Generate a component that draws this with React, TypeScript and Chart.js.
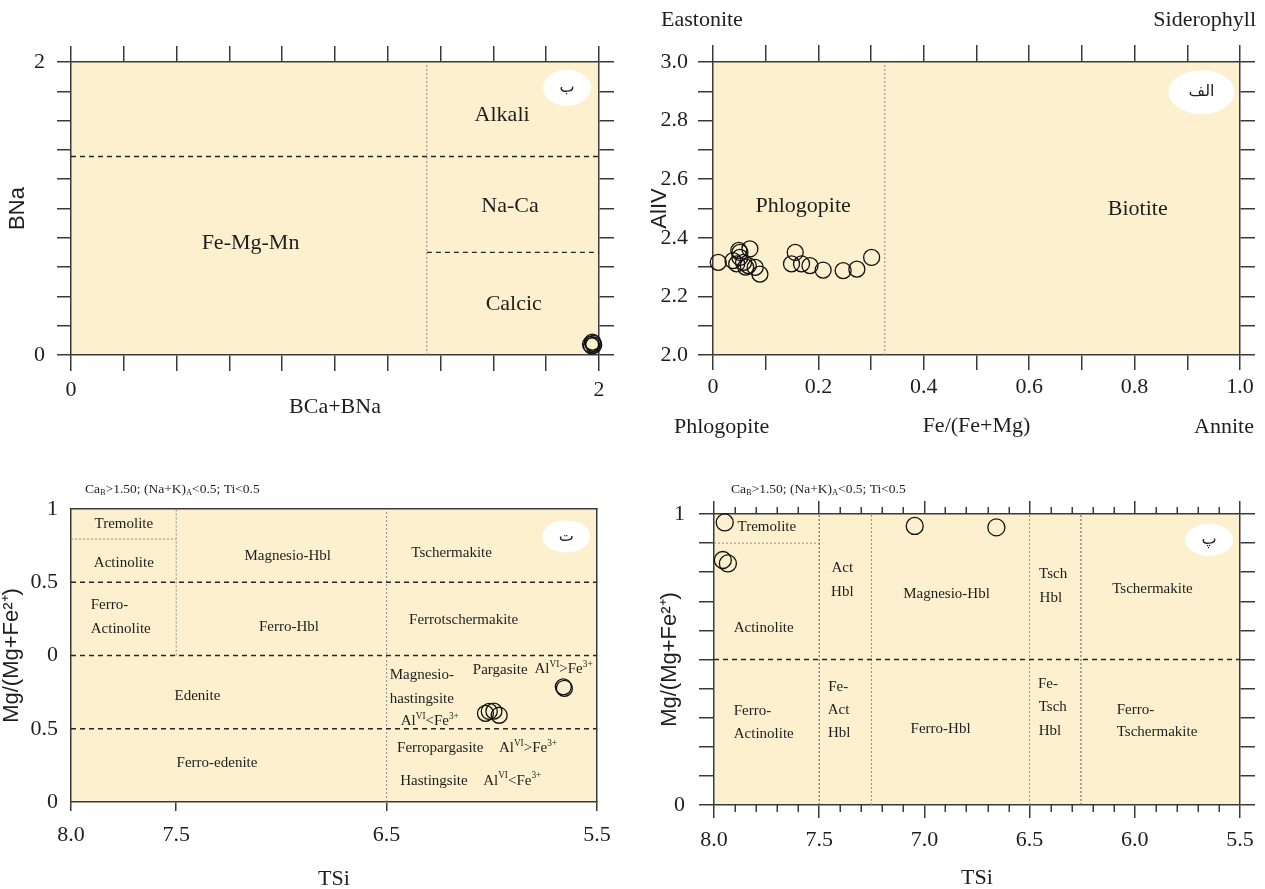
import React, { useEffect, useRef } from 'react';
import { Chart, registerables } from 'chart.js';

Chart.register(...registerables);

// ---------------- fonts & colours ----------------
const SERIF = '"Liberation Serif", "Times New Roman", Times, serif';
const SANS = '"Liberation Sans", Arial, Helvetica, sans-serif';
const ARABIC = '"DejaVu Sans", "Noto Sans", sans-serif';
const FIELD_BG = '#FDF0CE';
const INK = '#1e1e1e';
const FRAME = '#3a3a3a';

type P = { x: number; y: number };
const zip = (xs: number[], ys: number[]): P[] => xs.map((x, i) => ({ x, y: ys[i] }));

// ---------------- Panel ب : BCa+BNa vs BNa ----------------
const groupLabeledX = [0, 2];
const groupLabeledY = [0, 2];
const groupSumBCaBNa = [1.968, 1.975, 1.98, 1.972, 1.978];
const groupBNa = [0.072, 0.088, 0.068, 0.062, 0.08];
const groupLineV: P[] = [{ x: 1.348, y: 0 }, { x: 1.348, y: 2 }];
const groupLineSodic: P[] = [{ x: 0, y: 1.355 }, { x: 2, y: 1.355 }];
const groupLineCalcic: P[] = [{ x: 1.348, y: 0.7 }, { x: 2, y: 0.7 }];
const groupFields = [
  { text: 'Alkali', x: 1.633, y: 1.635 },
  { text: 'Na-Ca', x: 1.663, y: 1.016 },
  { text: 'Fe-Mg-Mn', x: 0.68, y: 0.76 },
  { text: 'Calcic', x: 1.677, y: 0.349 },
];

// ---------------- Panel الف : Fe/(Fe+Mg) vs AlIV ----------------
const bioLabeledX = [0, 0.2, 0.4, 0.6, 0.8, 1.0];
const bioLabeledY = [2.0, 2.2, 2.4, 2.6, 2.8, 3.0];
const bioFeRatio = [0.010, 0.038, 0.045, 0.051, 0.051, 0.049, 0.058, 0.067, 0.070, 0.080, 0.089, 0.062, 0.149, 0.156, 0.168, 0.184, 0.209, 0.247, 0.273, 0.301];
const bioAlIV = [2.316, 2.322, 2.311, 2.350, 2.333, 2.357, 2.316, 2.305, 2.362, 2.299, 2.276, 2.300, 2.311, 2.350, 2.311, 2.305, 2.290, 2.288, 2.293, 2.333];
const bioLineV: P[] = [{ x: 0.326, y: 2 }, { x: 0.326, y: 3 }];
const bioFields = [
  { text: 'Phlogopite', x: 0.171, y: 2.507 },
  { text: 'Biotite', x: 0.806, y: 2.497 },
];

// ---------------- Panel ت : TSi vs Mg/(Mg+Fe2+) (two stacked diagrams) ----------------
const leakeTickValuesX = [8.0, 7.5, 6.5, 5.5];
const leakeTickValuesY = [0, 0.5, 1, 1.5, 2];
const leakeTickLabelsY = ['0', '0.5', '0', '0.5', '1'];
const leakeTSi = [6.03, 6.012, 5.99, 5.965, 5.66, 5.655];
const leakeMg = [0.605, 0.618, 0.62, 0.592, 0.786, 0.776];
const leakeLineUpper: P[] = [{ x: 8, y: 1.5 }, { x: 5.5, y: 1.5 }];
const leakeLineMid: P[] = [{ x: 8, y: 1.0 }, { x: 5.5, y: 1.0 }];
const leakeLineLower: P[] = [{ x: 8, y: 0.5 }, { x: 5.5, y: 0.5 }];
const leakeLineAct: P[] = [{ x: 7.5, y: 1.0 }, { x: 7.5, y: 2.0 }];
const leakeLineTsch: P[] = [{ x: 6.5, y: 0 }, { x: 6.5, y: 2.0 }];
const leakeLineTrem: P[] = [{ x: 8, y: 1.795 }, { x: 7.5, y: 1.795 }];
const leakeFields = [
  { text: 'Tremolite', x: 7.749, y: 1.9 },
  { text: 'Actinolite', x: 7.749, y: 1.631 },
  { text: 'Magnesio-Hbl', x: 6.97, y: 1.681 },
  { text: 'Tschermakite', x: 6.191, y: 1.7 },
  { text: 'Ferro-', x: 7.906, y: 1.347, align: 'left' },
  { text: 'Actinolite', x: 7.906, y: 1.183, align: 'left' },
  { text: 'Ferro-Hbl', x: 6.964, y: 1.195 },
  { text: 'Ferrotschermakite', x: 6.134, y: 1.245 },
  { text: 'Magnesio-', x: 6.485, y: 0.865, align: 'left' },
  { text: 'hastingsite', x: 6.485, y: 0.706, align: 'left' },
  { text: 'Al^{VI}<Fe^{3+}', x: 6.433, y: 0.551, align: 'left' },
  { text: 'Pargasite', x: 5.96, y: 0.903 },
  { text: 'Al^{VI}>Fe^{3+}', x: 5.659, y: 0.908 },
  { text: 'Edenite', x: 7.399, y: 0.721 },
  { text: 'Ferropargasite', x: 6.245, y: 0.369 },
  { text: 'Al^{VI}>Fe^{3+}', x: 5.828, y: 0.369 },
  { text: 'Ferro-edenite', x: 7.306, y: 0.266 },
  { text: 'Hastingsite', x: 6.275, y: 0.145 },
  { text: 'Al^{VI}<Fe^{3+}', x: 5.903, y: 0.145 },
];

// ---------------- Panel پ : TSi vs Mg/(Mg+Fe2+) ----------------
const calcLabeledY = [0, 1];
const calcMinorX = [7.9, 7.8, 7.7, 7.6, 7.4, 7.3, 7.2, 7.1, 6.9, 6.8, 6.7, 6.6, 6.4, 6.3, 6.2, 6.1, 5.9, 5.8, 5.7, 5.6];
const calcTSi = [7.949, 7.958, 7.934, 7.046, 6.658];
const calcMg = [0.971, 0.842, 0.83, 0.959, 0.954];
const calcLineHalf: P[] = [{ x: 8, y: 0.5 }, { x: 5.5, y: 0.5 }];
const calcLineTrem: P[] = [{ x: 8, y: 0.9 }, { x: 7.485, y: 0.9 }];
const calcLine75: P[] = [{ x: 7.5, y: 0 }, { x: 7.5, y: 1 }];
const calcLine725: P[] = [{ x: 7.252, y: 0 }, { x: 7.252, y: 1 }];
const calcLine65: P[] = [{ x: 6.5, y: 0 }, { x: 6.5, y: 1 }];
const calcLine625: P[] = [{ x: 6.256, y: 0 }, { x: 6.256, y: 1 }];
const calcFields = [
  { text: 'Tremolite', x: 7.749, y: 0.956 },
  { text: 'Act', x: 7.39, y: 0.813 },
  { text: 'Hbl', x: 7.39, y: 0.733 },
  { text: 'Magnesio-Hbl', x: 6.895, y: 0.725 },
  { text: 'Tsch', x: 6.388, y: 0.793 },
  { text: 'Hbl', x: 6.399, y: 0.71 },
  { text: 'Tschermakite', x: 5.916, y: 0.742 },
  { text: 'Actinolite', x: 7.764, y: 0.607 },
  { text: 'Ferro-', x: 7.906, y: 0.323, align: 'left' },
  { text: 'Actinolite', x: 7.906, y: 0.243, align: 'left' },
  { text: 'Fe-', x: 7.41, y: 0.404 },
  { text: 'Act', x: 7.408, y: 0.325 },
  { text: 'Hbl', x: 7.405, y: 0.246 },
  { text: 'Ferro-Hbl', x: 6.923, y: 0.261 },
  { text: 'Fe-', x: 6.413, y: 0.415 },
  { text: 'Tsch', x: 6.39, y: 0.336 },
  { text: 'Hbl', x: 6.403, y: 0.254 },
  { text: 'Ferro-', x: 6.086, y: 0.325, align: 'left' },
  { text: 'Tschermakite', x: 6.086, y: 0.249, align: 'left' },
];

const HEADER = 'Ca_{B}>1.50; (Na+K)_{A}<0.5; Ti<0.5';

// ---------------- helpers ----------------
type Part = { t: string; k?: 'sup' | 'sub' };
function parseRich(s: string): Part[] {
  const parts: Part[] = [];
  const re = /([\^_])\{([^}]*)\}/g;
  let last = 0;
  let m: RegExpExecArray | null;
  while ((m = re.exec(s))) {
    if (m.index > last) parts.push({ t: s.slice(last, m.index) });
    parts.push({ t: m[2], k: m[1] === '^' ? 'sup' : 'sub' });
    last = re.lastIndex;
  }
  if (last < s.length) parts.push({ t: s.slice(last) });
  return parts;
}

function drawRich(ctx: CanvasRenderingContext2D, s: string, x: number, y: number, size: number, family: string, align: string, color: string) {
  const parts = parseRich(s);
  const small = size * 0.62;
  ctx.save();
  ctx.fillStyle = color;
  ctx.textBaseline = 'middle';
  ctx.textAlign = 'left';
  const widths = parts.map((p) => {
    ctx.font = `${p.k ? small : size}px ${family}`;
    return ctx.measureText(p.t).width;
  });
  const total = widths.reduce((a, b) => a + b, 0);
  let cx = align === 'center' ? x - total / 2 : align === 'right' ? x - total : x;
  parts.forEach((p, i) => {
    ctx.font = `${p.k ? small : size}px ${family}`;
    const dy = p.k === 'sup' ? -size * 0.32 : p.k === 'sub' ? size * 0.3 : 0;
    ctx.fillText(p.t, cx, y + dy);
    cx += widths[i];
  });
  ctx.restore();
}

type Field = { text: string; x: number; y: number; align?: string };
type Badge = { text: string; x: number; y: number; rx: number; ry: number; size: number };
type Free = { text: string; cx: number; cy: number; align: string; size: number; family: string };
type Minor = { values: number[]; len: number };

function decor(id: string, fields: Field[], size: number, badge: Badge, free: Free[], minor?: Minor) {
  return {
    id,
    beforeDraw(chart: any) {
      const { ctx, chartArea: a } = chart;
      ctx.save();
      ctx.fillStyle = FIELD_BG;
      ctx.fillRect(a.left, a.top, a.right - a.left, a.bottom - a.top);
      ctx.restore();
    },
    beforeDatasetsDraw(chart: any) {
      const { ctx } = chart;
      const xs = chart.scales.x;
      const ys = chart.scales.y;
      const bx = xs.getPixelForValue(badge.x);
      const by = ys.getPixelForValue(badge.y);
      ctx.save();
      ctx.fillStyle = '#ffffff';
      ctx.beginPath();
      ctx.ellipse(bx, by, badge.rx, badge.ry, 0, 0, Math.PI * 2);
      ctx.fill();
      ctx.fillStyle = INK;
      ctx.font = `${badge.size}px ${ARABIC}`;
      ctx.textAlign = 'center';
      ctx.textBaseline = 'middle';
      ctx.fillText(badge.text, bx, by);
      ctx.restore();
    },
    afterDatasetsDraw(chart: any) {
      const { ctx, chartArea: a } = chart;
      const xs = chart.scales.x;
      const ys = chart.scales.y;
      fields.forEach((f) => {
        drawRich(ctx, f.text, xs.getPixelForValue(f.x), ys.getPixelForValue(f.y), size, SERIF, f.align || 'center', INK);
      });
      free.forEach((f) => drawRich(ctx, f.text, f.cx, f.cy, f.size, f.family, f.align, INK));
      if (minor) {
        ctx.save();
        ctx.strokeStyle = FRAME;
        ctx.lineWidth = 1.5;
        minor.values.forEach((v) => {
          const px = Math.round(xs.getPixelForValue(v)) + 0.25;
          ctx.beginPath();
          ctx.moveTo(px, a.bottom);
          ctx.lineTo(px, a.bottom + minor.len);
          ctx.moveTo(px, a.top);
          ctx.lineTo(px, a.top - minor.len);
          ctx.stroke();
        });
        ctx.restore();
      }
    },
  };
}

const tickFont = { family: SERIF, size: 22 };
const border = { display: true, color: FRAME, width: 1.5 };
const grid = (len: number) => ({
  drawOnChartArea: false,
  drawTicks: len > 0,
  tickLength: len,
  tickColor: FRAME,
  tickWidth: 1.5,
  color: FRAME,
  lineWidth: 1.5,
});
const fixW = (w: number) => (s: any) => { s.width = w; };
const fixH = (h: number) => (s: any) => { s.height = h; };
const near = (v: number, list: number[]) => list.some((l) => Math.abs(l - v) < 1e-6);

const DASH = { borderColor: '#262626', borderWidth: 1.3, borderDash: [5, 4] };
const DOT_LIGHT = { borderColor: '#8c8c8c', borderWidth: 1, borderDash: [2, 2] };
const DOT_DARK = { borderColor: '#5a5a5a', borderWidth: 1, borderDash: [2, 2] };

const boundary = (data: P[], style: any) => ({ data, showLine: true, pointRadius: 0, fill: false, ...style });
const samples = (data: P[], r: number) => ({
  data,
  showLine: false,
  pointStyle: 'circle',
  pointRadius: r,
  pointBorderWidth: 1.3,
  pointBorderColor: '#111111',
  pointBackgroundColor: 'rgba(0,0,0,0)',
  clip: false,
});

const baseOptions = {
  animation: false,
  responsive: false,
  devicePixelRatio: 1,
  layout: { padding: 0 },
  events: [],
  plugins: { legend: { display: false }, tooltip: { enabled: false } },
};

const hiddenTicks = { display: false };

// ---------------- chart builders ----------------
function buildGroups(): any {
  return {
    type: 'scatter',
    data: {
      datasets: [
        samples(zip(groupSumBCaBNa, groupBNa), 8),
        boundary(groupLineV, DOT_LIGHT),
        boundary(groupLineSodic, DASH),
        boundary(groupLineCalcic, DASH),
      ],
    },
    options: {
      ...baseOptions,
      scales: {
        x: {
          type: 'linear', position: 'bottom', min: 0, max: 2,
          afterFit: fixH(89),
          ticks: { stepSize: 0.2, autoSkip: false, maxRotation: 0, padding: 6, font: tickFont, color: INK,
            callback: (v: number) => (near(v, groupLabeledX) ? String(Math.round(v)) : '') },
          grid: grid(16), border,
          title: { display: true, text: 'BCa+BNa', font: { family: SERIF, size: 22 }, color: INK, padding: { top: 0, bottom: 24 } },
        },
        x2: { type: 'linear', position: 'top', min: 0, max: 2, afterFit: fixH(62),
          ticks: { ...hiddenTicks, stepSize: 0.2 }, grid: grid(16), border },
        y: {
          type: 'linear', position: 'left', min: 0, max: 2,
          afterFit: fixW(71),
          ticks: { stepSize: 0.2, autoSkip: false, padding: 12, font: tickFont, color: INK,
            callback: (v: number) => (near(v, groupLabeledY) ? String(Math.round(v)) : '') },
          grid: grid(14), border,
          title: { display: true, text: 'BNa', font: { family: SANS, size: 22 }, color: INK, padding: { top: 5, bottom: 0 } },
        },
        y2: { type: 'linear', position: 'right', min: 0, max: 2, afterFit: fixW(33),
          ticks: { ...hiddenTicks, stepSize: 0.2 }, grid: grid(15), border },
      },
    },
    plugins: [decor('groupsDecor', groupFields, 22, { text: 'ب', x: 1.879, y: 1.824, rx: 24, ry: 18, size: 16 }, [])],
  };
}

function buildBiotite(): any {
  return {
    type: 'scatter',
    data: {
      datasets: [samples(zip(bioFeRatio, bioAlIV), 8), boundary(bioLineV, DOT_LIGHT)],
    },
    options: {
      ...baseOptions,
      scales: {
        x: {
          type: 'linear', position: 'bottom', min: 0, max: 1,
          afterFit: fixH(89),
          ticks: { stepSize: 0.1, autoSkip: false, maxRotation: 0, padding: 4, font: tickFont, color: INK,
            callback: (v: number) => (near(v, bioLabeledX) ? (Math.abs(v) < 1e-6 ? '0' : v.toFixed(1)) : '') },
          grid: grid(15), border,
          title: { display: true, text: 'Fe/(Fe+Mg)', font: { family: SERIF, size: 22 }, color: INK, padding: { top: 0, bottom: 5 } },
        },
        x2: { type: 'linear', position: 'top', min: 0, max: 1, afterFit: fixH(62),
          ticks: { ...hiddenTicks, stepSize: 0.1 }, grid: grid(17), border },
        y: {
          type: 'linear', position: 'left', min: 2, max: 3,
          afterFit: fixW(81),
          ticks: { stepSize: 0.1, autoSkip: false, padding: 10, font: tickFont, color: INK,
            callback: (v: number) => (near(v, bioLabeledY) ? v.toFixed(1) : '') },
          grid: grid(15), border,
          title: { display: true, text: 'AlIV', font: { family: SANS, size: 22 }, color: INK, padding: { top: 15, bottom: 0 } },
        },
        y2: { type: 'linear', position: 'right', min: 2, max: 3, afterFit: fixW(25),
          ticks: { ...hiddenTicks, stepSize: 0.1 }, grid: grid(15), border },
      },
    },
    plugins: [decor('bioDecor', bioFields, 22, { text: 'الف', x: 0.927, y: 2.897, rx: 33, ry: 22, size: 16 }, [
      { text: 'Eastonite', cx: 29, cy: 20, align: 'left', size: 22, family: SERIF },
      { text: 'Siderophyll', cx: 624, cy: 20, align: 'right', size: 22, family: SERIF },
      { text: 'Phlogopite', cx: 42, cy: 427, align: 'left', size: 22, family: SERIF },
      { text: 'Annite', cx: 622, cy: 427, align: 'right', size: 22, family: SERIF },
    ])],
  };
}

function buildLeake(): any {
  return {
    type: 'scatter',
    data: {
      datasets: [
        samples(zip(leakeTSi, leakeMg), 8),
        boundary(leakeLineUpper, DASH),
        boundary(leakeLineMid, DASH),
        boundary(leakeLineLower, DASH),
        boundary(leakeLineAct, DOT_LIGHT),
        boundary(leakeLineTsch, DOT_LIGHT),
        boundary(leakeLineTrem, DOT_LIGHT),
      ],
    },
    options: {
      ...baseOptions,
      scales: {
        x: {
          type: 'linear', position: 'bottom', min: 5.5, max: 8, reverse: true,
          afterFit: fixH(87),
          afterBuildTicks: (s: any) => { s.ticks = leakeTickValuesX.map((value) => ({ value })); },
          ticks: { autoSkip: false, maxRotation: 0, padding: 11, font: tickFont, color: INK,
            callback: (v: number) => v.toFixed(1) },
          grid: grid(9), border,
          title: { display: true, text: 'TSi', font: { family: SERIF, size: 22 }, color: INK, padding: { top: 0, bottom: -3 } },
        },
        x2: { type: 'linear', position: 'top', min: 5.5, max: 8, reverse: true, afterFit: fixH(65),
          ticks: hiddenTicks, grid: grid(0), border },
        y: {
          type: 'linear', position: 'left', min: 0, max: 2,
          afterFit: fixW(71),
          afterBuildTicks: (s: any) => { s.ticks = leakeTickValuesY.map((value) => ({ value })); },
          ticks: { autoSkip: false, padding: 13, font: tickFont, color: INK,
            callback: (v: number) => leakeTickLabelsY[leakeTickValuesY.findIndex((t) => Math.abs(t - v) < 1e-6)] },
          grid: grid(0), border,
          title: { display: true, text: 'Mg/(Mg+Fe²⁺)', font: { family: SANS, size: 22 }, color: INK, padding: { top: -1, bottom: 0 } },
        },
        y2: { type: 'linear', position: 'right', min: 0, max: 2, afterFit: fixW(35),
          ticks: hiddenTicks, grid: grid(0), border },
      },
    },
    plugins: [decor('leakeDecor', leakeFields, 15, { text: 'ت', x: 5.646, y: 1.813, rx: 24, ry: 16, size: 16 }, [
      { text: HEADER, cx: 85, cy: 45, align: 'left', size: 13.5, family: SERIF },
    ])],
  };
}

function buildCalcic(): any {
  return {
    type: 'scatter',
    data: {
      datasets: [
        samples(zip(calcTSi, calcMg), 8.5),
        boundary(calcLineHalf, DASH),
        boundary(calcLineTrem, DOT_LIGHT),
        boundary(calcLine75, DOT_DARK),
        boundary(calcLine725, DOT_LIGHT),
        boundary(calcLine65, DOT_LIGHT),
        boundary(calcLine625, DOT_DARK),
      ],
    },
    options: {
      ...baseOptions,
      scales: {
        x: {
          type: 'linear', position: 'bottom', min: 5.5, max: 8, reverse: true,
          afterFit: fixH(84),
          ticks: { stepSize: 0.5, autoSkip: false, maxRotation: 0, padding: 9, font: tickFont, color: INK,
            callback: (v: number) => v.toFixed(1) },
          grid: grid(13), border,
          title: { display: true, text: 'TSi', font: { family: SERIF, size: 22 }, color: INK, padding: { top: 0, bottom: -2 } },
        },
        x2: { type: 'linear', position: 'top', min: 5.5, max: 8, reverse: true, afterFit: fixH(70),
          ticks: { ...hiddenTicks, stepSize: 0.5 }, grid: grid(13), border },
        y: {
          type: 'linear', position: 'left', min: 0, max: 1,
          afterFit: fixW(82),
          ticks: { stepSize: 0.1, autoSkip: false, padding: 14, font: tickFont, color: INK,
            callback: (v: number) => (near(v, calcLabeledY) ? String(Math.round(v)) : '') },
          grid: grid(15), border,
          title: { display: true, text: 'Mg/(Mg+Fe²⁺)', font: { family: SANS, size: 22 }, color: INK, padding: { top: 25, bottom: 0 } },
        },
        y2: { type: 'linear', position: 'right', min: 0, max: 1, afterFit: fixW(25),
          ticks: { ...hiddenTicks, stepSize: 0.1 }, grid: grid(15), border },
      },
    },
    plugins: [decor('calcDecor', calcFields, 15, { text: 'پ', x: 5.647, y: 0.911, rx: 24, ry: 16, size: 16 }, [
      { text: HEADER, cx: 99, cy: 45, align: 'left', size: 13.5, family: SERIF },
    ], { values: calcMinorX, len: 7 })],
  };
}

// ---------------- components ----------------
function ChartPanel({ x, y, w, h, build }: { x: number; y: number; w: number; h: number; build: () => any }) {
  const ref = useRef<HTMLCanvasElement | null>(null);
  useEffect(() => {
    if (!ref.current) return;
    const chart = new Chart(ref.current, build());
    return () => chart.destroy();
  }, [build]);
  return (
    <canvas
      ref={ref}
      width={w}
      height={h}
      style={{ position: 'absolute', left: x, top: y, width: w, height: h, display: 'block' }}
    />
  );
}

export default function App() {
  return (
    <div style={{ position: 'fixed', left: 0, top: 0, width: 1265, height: 889, background: '#ffffff', overflow: 'hidden' }}>
      <ChartPanel x={0} y={0} w={632} h={444} build={buildGroups} />
      <ChartPanel x={632} y={0} w={633} h={444} build={buildBiotite} />
      <ChartPanel x={0} y={444} w={632} h={445} build={buildLeake} />
      <ChartPanel x={632} y={444} w={633} h={445} build={buildCalcic} />
    </div>
  );
}
